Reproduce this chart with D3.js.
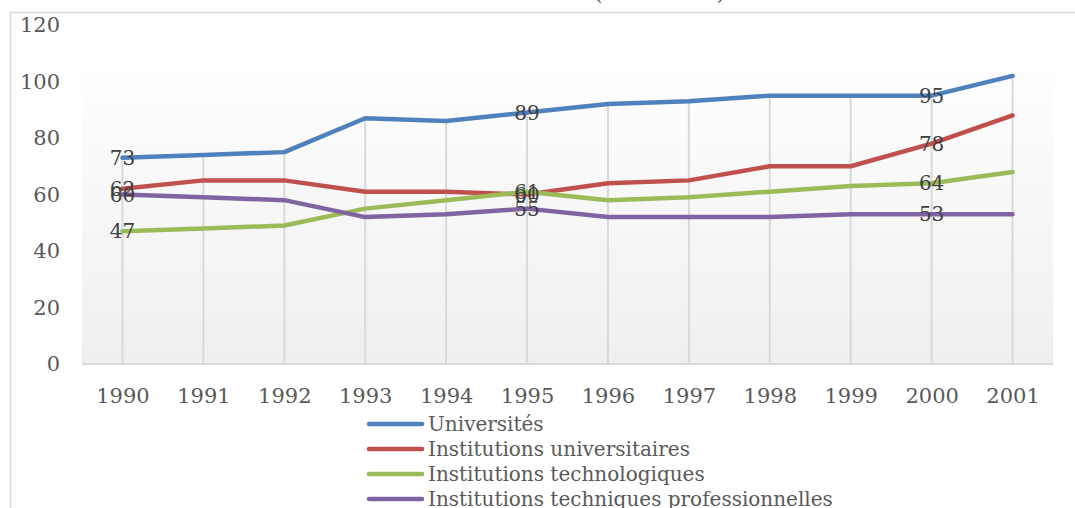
<!DOCTYPE html>
<html>
<head>
<meta charset="utf-8">
<script src="https://cdn.jsdelivr.net/npm/d3@7"></script>
<style>
  html, body { margin: 0; padding: 0; background: #ffffff; overflow: hidden; }
  svg { display: block; }
  text { font-family: "DejaVu Serif", serif; }
</style>
</head>
<body>
<svg id="chart" width="1075" height="508"></svg>
<script>
const years = ["1990","1991","1992","1993","1994","1995","1996","1997","1998","1999","2000","2001"];
const seriesNames = ["Universités","Institutions universitaires","Institutions technologiques","Institutions techniques professionnelles"];
const universites = [73, 74, 75, 87, 86, 89, 92, 93, 95, 95, 95, 102];
const institutionsUniversitaires = [62, 65, 65, 61, 61, 60, 64, 65, 70, 70, 78, 88];
const institutionsTechnologiques = [47, 48, 49, 55, 58, 61, 58, 59, 61, 63, 64, 68];
const institutionsTechniquesPro = [60, 59, 58, 52, 53, 55, 52, 52, 52, 53, 53, 53];
const yTicks = [0, 20, 40, 60, 80, 100, 120];
const labelledIndices = [0, 5, 10];
const titleText = "Établissements (1990-2001)";
const colors = ["#4F81BD", "#C0504D", "#9BBB59", "#8064A2"];

const seriesValues = [universites, institutionsUniversitaires, institutionsTechnologiques, institutionsTechniquesPro];
const series = seriesNames.map((name, k) => ({ name, values: seriesValues[k], color: colors[k] }));

const svg = d3.select("#chart");
const plot = { left: 82, right: 1053, top: 70, bottom: 364 };

const x = d3.scalePoint().domain(years).range([plot.left, plot.right]).padding(0.5);
const y = d3.scaleLinear().domain([0, 120]).range([plot.bottom, 25]);

// outer chart frame
svg.append("rect").attr("x", 10.5).attr("y", 12.5).attr("width", 1100).attr("height", 600)
  .attr("fill", "#ffffff").attr("stroke", "#d9d9d9").attr("stroke-width", 1.5);

// title (mostly clipped above window)
svg.append("text").attr("x", 575).attr("y", 0).attr("text-anchor", "middle")
  .attr("font-size", 21).attr("fill", "#404040").text(titleText);

// plot area gradient
const defs = svg.append("defs");
const grad = defs.append("linearGradient").attr("id", "pg").attr("x1", 0).attr("y1", 0).attr("x2", 0).attr("y2", 1);
grad.append("stop").attr("offset", "0%").attr("stop-color", "#fefefe");
grad.append("stop").attr("offset", "100%").attr("stop-color", "#efefef");
svg.append("rect").attr("x", plot.left).attr("y", plot.top)
  .attr("width", plot.right - plot.left).attr("height", plot.bottom - plot.top)
  .attr("fill", "url(#pg)");

// drop lines
svg.append("g").selectAll("line").data(years).join("line")
  .attr("x1", d => x(d)).attr("x2", d => x(d))
  .attr("y1", (d, i) => y(d3.max(seriesValues, v => v[i])))
  .attr("y2", plot.bottom)
  .attr("stroke", "#d9d9d9").attr("stroke-width", 2);

// x axis
const xAxis = svg.append("g").attr("transform", `translate(0,${plot.bottom})`)
  .call(d3.axisBottom(x).tickSize(0).tickPadding(24));
xAxis.select(".domain").attr("d", `M${plot.left},0H${plot.right}`).attr("stroke", "#d9d9d9").attr("stroke-width", 2);
xAxis.selectAll("text").attr("font-size", 21).attr("fill", "#595959").attr("font-family", "DejaVu Serif");

// y axis
const yAxis = svg.append("g").attr("transform", `translate(60,0)`)
  .call(d3.axisLeft(y).tickValues(yTicks).tickSize(0).tickPadding(0));
yAxis.select(".domain").remove();
yAxis.selectAll("text").attr("font-size", 21).attr("fill", "#595959").attr("font-family", "DejaVu Serif");

// lines
const line = d3.line().x((d, i) => x(years[i])).y(d => y(d));
svg.append("g").selectAll("path").data(series).join("path")
  .attr("d", d => line(d.values))
  .attr("fill", "none").attr("stroke", d => d.color).attr("stroke-width", 4.5)
  .attr("stroke-linecap", "round").attr("stroke-linejoin", "round");

// data labels
const lbl = svg.append("g");
series.forEach(s => {
  labelledIndices.forEach(i => {
    lbl.append("text").attr("x", x(years[i])).attr("y", y(s.values[i]))
      .attr("dy", "0.36em").attr("text-anchor", "middle")
      .attr("font-size", 20).attr("fill", "#404040").text(s.values[i]);
  });
});

// legend
const leg = svg.append("g");
series.forEach((s, k) => {
  const ly = 424 + k * 25;
  leg.append("line").attr("x1", 369).attr("x2", 422).attr("y1", ly).attr("y2", ly)
    .attr("stroke", s.color).attr("stroke-width", 4.5).attr("stroke-linecap", "round");
  leg.append("text").attr("x", 428).attr("y", ly).attr("dy", "0.36em")
    .attr("font-size", 20).attr("fill", "#595959").text(s.name);
});
</script>
</body>
</html>
